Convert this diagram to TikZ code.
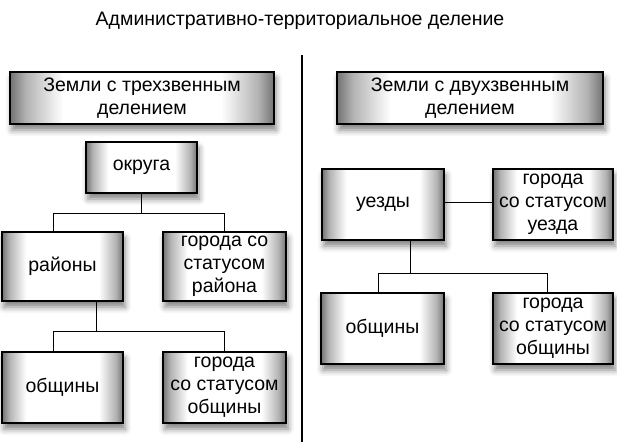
\documentclass[tikz,border=0pt]{standalone}
\usepackage{fontspec}
\setmainfont{Liberation Sans}
\usetikzlibrary{shadows.blur}
\pgfdeclarehorizontalshading{boxfade}{100bp}{color(0bp)=(black!55); color(25bp)=(black!55); color(28bp)=(black!30); color(35bp)=(white); color(65bp)=(white); color(72bp)=(black!30); color(75bp)=(black!55); color(100bp)=(black!55)}
\begin{document}
\begin{tikzpicture}[x=1pt, y=-1pt, thick, every node/.style={font=\fontsize{19.5}{23}\selectfont},
    box/.style={draw, line width=1.8pt, shading=boxfade, align=center, inner sep=0pt,
        blur shadow={shadow xshift=2pt, shadow yshift=-6pt, shadow blur radius=6pt, shadow opacity=50}},
    link/.style={line width=0.8pt}]
        \useasboundingbox (0,0) rectangle (617,442);
        \node (title) at (300,21) {Административно-территориальное деление};
        \draw[line width=1.2pt] (302,55) -- (302,442);
        \foreach \name/\cx/\cy/\w/\h/\txt in {
            zemliA/142/98/264/52/{Земли с трехзвенным\\делением},
            zemliB/470/98/266/52/{Земли с двухзвенным\\делением},
            okruga/141.5/167.5/111/51/округа,
            rayony/62.5/266.5/121/69/районы,
            gorRayon/224.5/266.5/123/69/{города со\\статусом\\района},
            obshA/62.5/387.5/121/71/общины,
            gorObshA/224.5/387.5/123/71/{города\\со статусом\\общины},
            uezdy/383/204.5/122/71/уезды,
            gorUezd/553/204.5/120/71/{города\\со статусом\\уезда},
            obshB/382.5/328.5/123/71/общины,
            gorObshB/553/328.5/120/71/{города\\со статусом\\общины}}
            \node[box, minimum width=\w pt, minimum height=\h pt] (\name) at (\cx,\cy) {\txt};
        \draw[link] (okruga.south) -- ++(0,19) coordinate (jA);
        \draw[link] ([xshift=-9.5pt]rayony.north) |- (jA) -| (gorRayon.north);
        \draw[link] ([xshift=33.5pt]rayony.south) -- ++(0,29) coordinate (jB);
        \draw[link] ([xshift=-9.5pt]obshA.north) |- (jB) -| (gorObshA.north);
        \draw[link] ([yshift=2.5pt]uezdy.east) -- ([yshift=2.5pt]gorUezd.west);
        \draw[link] ([xshift=27pt]uezdy.south) -- ++(0,32) coordinate (jC);
        \draw[link] ([xshift=-4.5pt]obshB.north) |- (jC) -| ([xshift=-6pt]gorObshB.north);
    \end{tikzpicture}
\end{document}
